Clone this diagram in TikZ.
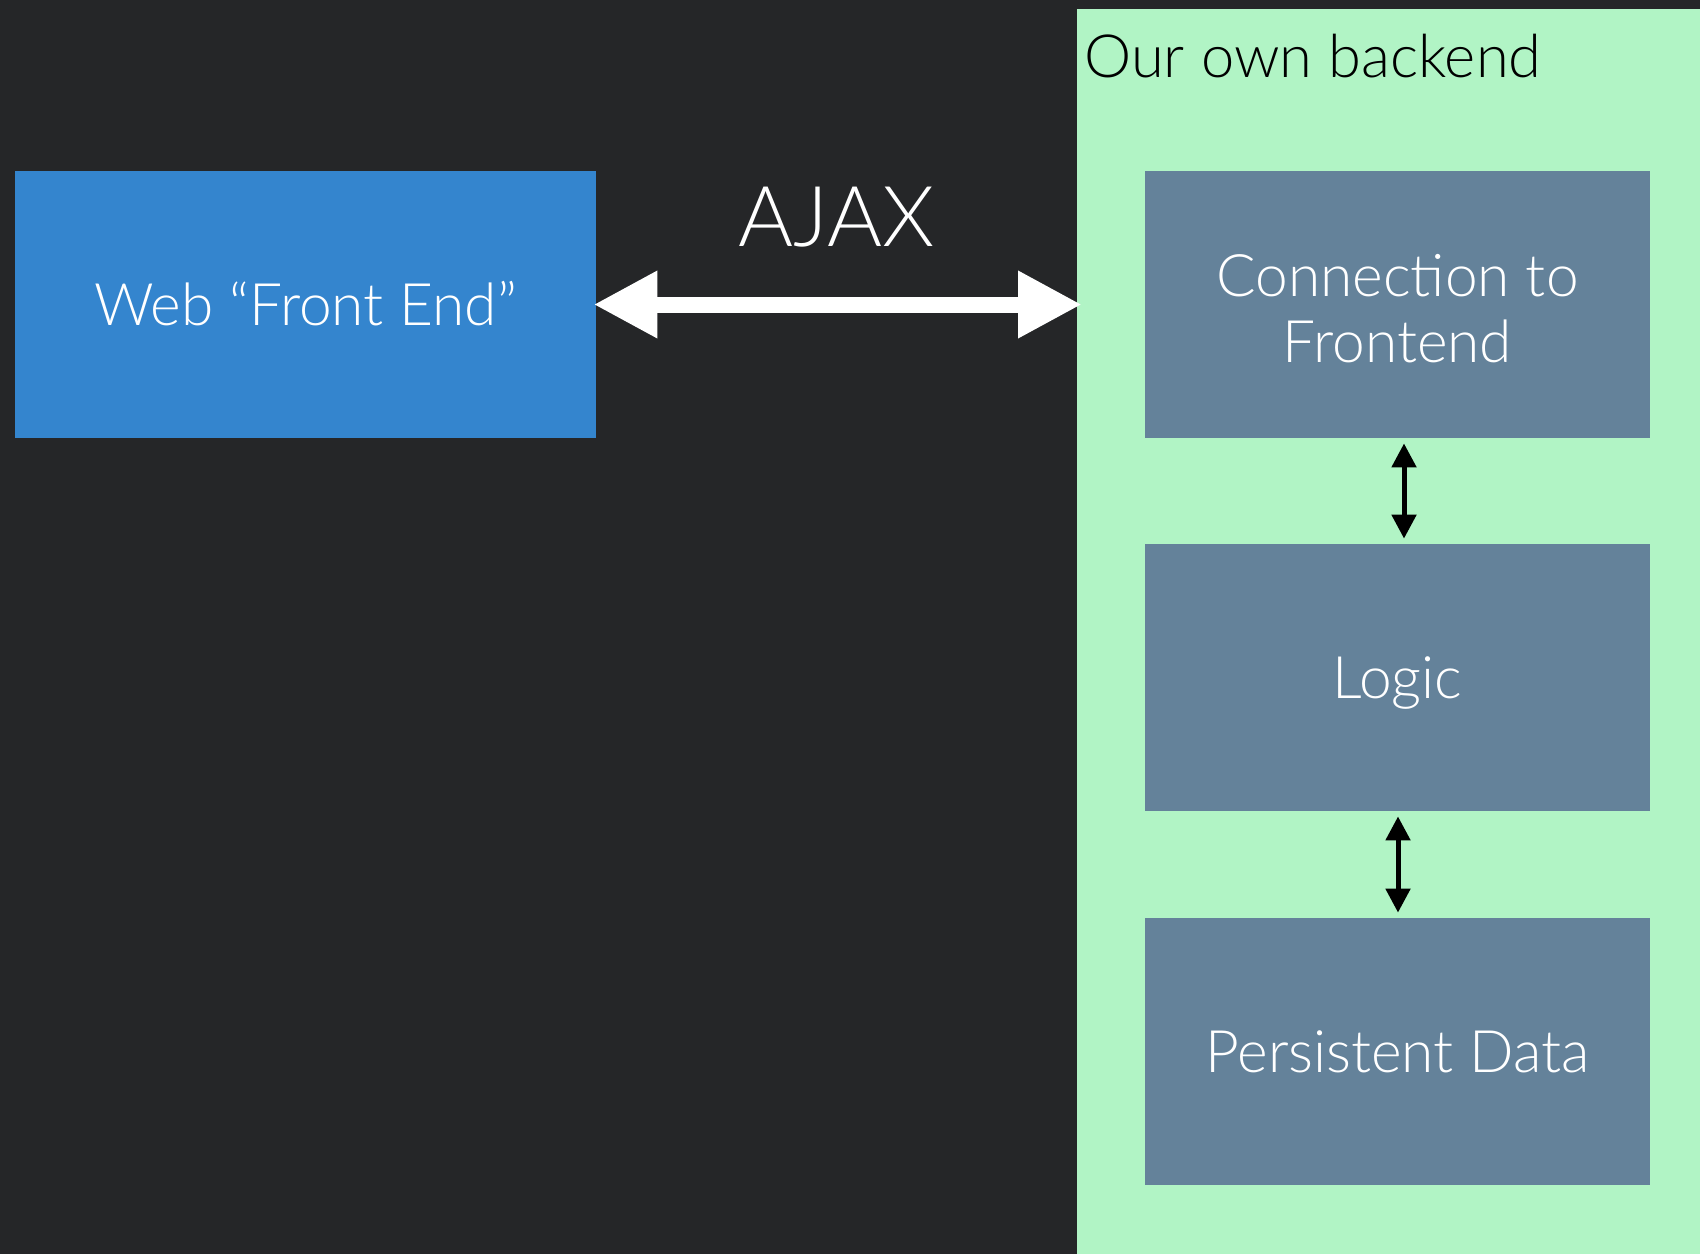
\documentclass[tikz,border=0pt]{standalone}
\usepackage{fontspec}
\setmainfont{Lato}[UprightFont=* Light]
\usetikzlibrary{arrows.meta}

\definecolor{bgdark}{HTML}{252628}
\definecolor{frontblue}{HTML}{3485CE}
\definecolor{tierslate}{HTML}{64829A}
\definecolor{panelgreen}{HTML}{B1F4C5}

\begin{document}
\begin{tikzpicture}[x=0.5pt,y=-0.5pt,
  bodyfont/.style={font=\fontsize{29.3pt}{33pt}\selectfont},
  oneline/.style={text height=20.5pt, text depth=0pt},
  tier/.style={rectangle, fill=tierslate, text=white, inner sep=0pt,
    minimum width=252.5pt, minimum height=133.5pt, align=center, bodyfont},
  frontbox/.style={rectangle, fill=frontblue, text=white, inner sep=0pt,
    minimum width=290.5pt, minimum height=133.5pt, bodyfont},
  ajaxarrow/.style={draw=white, line width=8pt,
    {Triangle[length=32pt,width=31.5pt]}-{Triangle[length=32pt,width=31.5pt]}},
  twoway/.style={draw=black, line width=2.5pt,
    {Triangle[length=12pt,width=12pt]}-{Triangle[length=12pt,width=12pt]},
    shorten <=2.5pt, shorten >=2.5pt}
]
% canvas
\fill[bgdark] (0,0) rectangle (1700,1254);
\useasboundingbox (0,0) rectangle (1700,1254);

% backend panel and its title
\node[fill=panelgreen, inner sep=0pt, anchor=north west,
  minimum width=311.5pt, minimum height=622.5pt] (panel) at (1077,9) {};
\node[anchor=base west, inner sep=0pt, text=black,
  font=\fontsize{29.8pt}{34pt}\selectfont] (title) at (1084,77) {Our own backend};

% front end
\node[frontbox, oneline] (front) at (305.5,304.5) {Web “Front End”};

% backend tiers (two-line box: height spans first cap top to last baseline)
\node[tier, text height=57.5pt, text depth=0pt] (conn) at (1397.5,304.5) {Connection to\\Frontend};
\node[tier, oneline] (logic) at (1397.5,677.5) {Logic};
\node[tier, oneline] (data) at (1397.5,1051.5) {Persistent Data};

% AJAX link
\coordinate (ajaxend) at (panel.west |- front.east);
\node[anchor=base, inner sep=0pt, text=white,
  font=\fontsize{42pt}{48pt}\selectfont] (ajax) at (836.5,246) {AJAX};
\draw[ajaxarrow] ([xshift=-1.5pt]front.east) -- ([xshift=2.5pt]ajaxend);

% links between tiers
\draw[twoway] ([xshift=3.25pt]conn.south) -- ([xshift=3.25pt]logic.north);
\draw[twoway] ([xshift=0.25pt]logic.south) -- ([xshift=0.25pt]data.north);
\end{tikzpicture}
\end{document}
